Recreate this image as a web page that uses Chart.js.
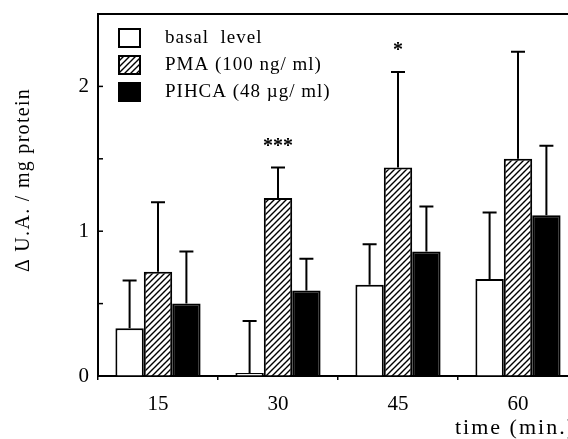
<!DOCTYPE html>
<html>
<head>
<meta charset="utf-8">
<script src="https://cdn.jsdelivr.net/npm/chart.js@4/dist/chart.umd.min.js"></script>
<style>
    html, body { margin: 0; padding: 0; background: #fff; overflow: hidden; }
    #wrap { position: relative; width: 600px; height: 439px; }
</style>
</head>
<body>
<div id="wrap"><canvas id="chart"></canvas></div>
<script>
// values
const categories = ['15', '30', '45', '60'];
const basal = [0.33, 0.02, 0.63, 0.67];
const basalSd = [0.33, 0.36, 0.28, 0.46];
const pma = [0.72, 1.23, 1.44, 1.50];
const pmaSd = [0.48, 0.21, 0.66, 0.74];
const pihca = [0.50, 0.59, 0.86, 1.11];
const pihcaSd = [0.36, 0.22, 0.31, 0.48];
const stars = ['', '***', '*', ''];
const yTicks = [0.5, 1, 1.5, 2];

const serif = "'Liberation Serif', 'DejaVu Serif', serif";

function makeHatch() {
    const c = document.createElement('canvas');
    c.width = 6;
    c.height = 6;
    const g = c.getContext('2d');
    g.fillStyle = '#fff';
    g.fillRect(0, 0, 6, 6);
    g.strokeStyle = '#000';
    g.lineWidth = 1.4;
    g.beginPath();
    g.moveTo(-1, 7); g.lineTo(7, -1);
    g.moveTo(-1, 1); g.lineTo(1, -1);
    g.moveTo(5, 7); g.lineTo(7, 5);
    g.stroke();
    return g.createPattern(c, 'repeat');
}

const sds = [basalSd, pmaSd, pihcaSd];

const extras = {
    id: 'extras',
    afterDatasetsDraw(chart) {
        const ctx = chart.ctx;
        const y = chart.scales.y;
        const area = chart.chartArea;
        ctx.save();
        ctx.strokeStyle = '#000';
        ctx.fillStyle = '#000';
        ctx.lineWidth = 2;

        // error bars (upper only)
        chart.data.datasets.forEach(function(ds, i) {
            const meta = chart.getDatasetMeta(i);
            meta.data.forEach(function(bar, j) {
                const top = y.getPixelForValue(ds.data[j] + sds[i][j]);
                ctx.beginPath();
                ctx.moveTo(bar.x, bar.y);
                ctx.lineTo(bar.x, top);
                ctx.moveTo(bar.x - 7, top);
                ctx.lineTo(bar.x + 7, top);
                ctx.stroke();
                if (i === 1 && stars[j]) {
                    ctx.font = 'bold 20px ' + serif;
                    ctx.textAlign = 'center';
                    ctx.textBaseline = 'middle';
                    ctx.fillText(stars[j], bar.x, top - 21);
                }
            });
        });

        // top frame line
        ctx.beginPath();
        ctx.moveTo(area.left, area.top);
        ctx.lineTo(chart.width, area.top);
        ctx.stroke();

        // inward y ticks
        ctx.lineWidth = 1.5;
        yTicks.forEach(function(v) {
            const py = y.getPixelForValue(v);
            ctx.beginPath();
            ctx.moveTo(area.left, py);
            ctx.lineTo(area.left + 5, py);
            ctx.stroke();
        });

        // legend
        ctx.font = '19px ' + serif;
        ctx.letterSpacing = '1px';
        ctx.textAlign = 'left';
        ctx.textBaseline = 'middle';
        chart.data.datasets.forEach(function(ds, i) {
            const cy = 38 + i * 27;
            ctx.fillStyle = ds.backgroundColor;
            ctx.fillRect(119, cy - 9, 21, 18);
            ctx.lineWidth = 2;
            ctx.strokeRect(119, cy - 9, 21, 18);
            ctx.fillStyle = '#000';
            ctx.fillText(ds.label, 165, cy);
        });

        // axis titles
        ctx.font = '20px ' + serif;
        ctx.letterSpacing = '1.3px';
        ctx.save();
        ctx.translate(24, 180);
        ctx.rotate(-Math.PI / 2);
        ctx.textAlign = 'center';
        ctx.fillText('\u0394 U.A. / mg protein', 0, 0);
        ctx.restore();
        ctx.font = '22px ' + serif;
        ctx.letterSpacing = '2px';
        ctx.textAlign = 'left';
        ctx.fillText('time (min.)', 455, 428);
        ctx.restore();
    }
};

function renderChart() {
    const ctx = document.getElementById('chart').getContext('2d');
    new Chart(ctx, {
        type: 'bar',
        data: {
            labels: categories,
            datasets: [
                {
                    label: 'basal  level',
                    data: basal,
                    backgroundColor: '#ffffff',
                    borderColor: '#000',
                    borderWidth: 2
                },
                {
                    label: 'PMA (100 ng/ ml)',
                    data: pma,
                    backgroundColor: makeHatch(),
                    borderColor: '#000',
                    borderWidth: 2
                },
                {
                    label: 'PIHCA (48 \u00b5g/ ml)',
                    data: pihca,
                    backgroundColor: '#000000',
                    borderColor: '#000',
                    borderWidth: 2
                }
            ]
        },
        options: {
            responsive: true,
            maintainAspectRatio: false,
            animation: false,
            layout: { padding: { top: 14, right: 22, left: 0, bottom: 0 } },
            datasets: { bar: { categoryPercentage: 0.71, barPercentage: 1 } },
            plugins: {
                legend: { display: false },
                tooltip: { enabled: false }
            },
            scales: {
                x: {
                    afterFit: function(s) { s.height = 63; },
                    grid: { drawOnChartArea: false, tickLength: 4, color: '#000', lineWidth: 1.5 },
                    border: { color: '#000', width: 2 },
                    ticks: { color: '#000', padding: 12, font: { family: serif, size: 21 } }
                },
                y: {
                    min: 0,
                    max: 2.5,
                    afterFit: function(s) {
                        s.width = 98;
                        s.paddingTop = 0;
                        s.paddingBottom = 0;
                    },
                    grid: { drawOnChartArea: false, drawTicks: false },
                    border: { color: '#000', width: 2 },
                    ticks: {
                        stepSize: 0.5,
                        padding: 9,
                        color: '#000',
                        font: { family: serif, size: 21 },
                        callback: function(v) { return Number.isInteger(v) && v < 2.5 ? v : ''; }
                    }
                }
            }
        },
        plugins: [extras]
    });
}

if (document.readyState !== 'loading') {
    renderChart();
} else {
    document.addEventListener('DOMContentLoaded', renderChart);
}
</script>
</body>
</html>
